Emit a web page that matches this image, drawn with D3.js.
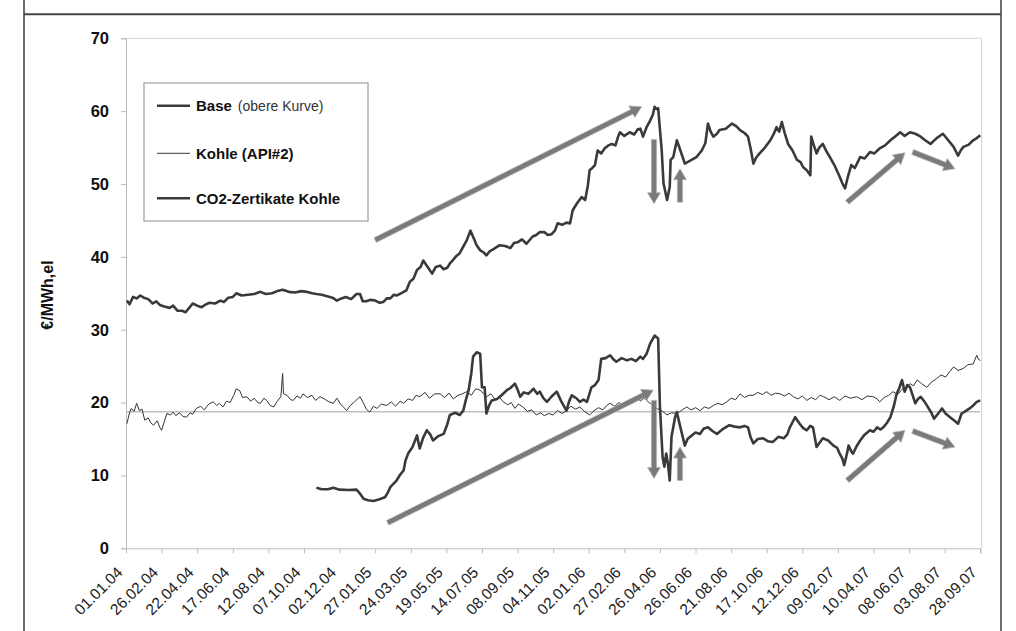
<!DOCTYPE html>
<html><head><meta charset="utf-8">
<script src="https://cdn.jsdelivr.net/npm/d3@7"></script>
<style>body{margin:0;background:#fff}svg{display:block}text{font-family:"Liberation Sans",Arial,sans-serif}</style>
</head><body>
<svg id="c" width="1016" height="631"></svg>
<script>
// tick labels (every 40 trading days)
const dateLabels = ["01.01.04","26.02.04","22.04.04","17.06.04","12.08.04","07.10.04","02.12.04","27.01.05","24.03.05","19.05.05","14.07.05","08.09.05","04.11.05","02.01.06","27.02.06","26.04.06","26.06.06","21.08.06","17.10.06","12.12.06","09.02.07","10.04.07","08.06.07","03.08.07","28.09.07"];
const yTicks = [0,10,20,30,40,50,60,70];
const seriesNames = ["Base","Kohle (API#2)","CO2-Zertikate Kohle"];
const refLevel = 18.75;

// [trading day, €/MWh]
const baseSeries = [[1,34.0],[4,33.5],[8,34.5],[12,34.3],[16,34.7],[20,34.4],[25,34.2],[30,33.6],[34,33.9],[38,33.4],[43,33.2],[49,33.0],[53,33.3],[58,32.6],[63,32.6],[67,32.4],[71,33.0],[75,33.6],[80,33.3],[85,33.1],[90,33.5],[94,33.7],[100,33.6],[106,34.0],[110,33.8],[115,34.4],[120,34.5],[124,35.0],[130,34.7],[137,34.8],[144,34.9],[151,35.2],[157,34.9],[164,35.0],[170,35.3],[176,35.5],[183,35.2],[190,35.1],[197,35.3],[203,35.2],[209,35.0],[214,34.9],[220,34.8],[226,34.6],[232,34.4],[237,34.0],[242,34.3],[247,34.5],[253,34.2],[259,34.9],[263,34.9],[266,33.9],[270,33.9],[275,34.1],[280,34.0],[285,33.7],[289,33.8],[293,34.3],[297,34.3],[301,34.8],[304,34.7],[309,35.0],[315,35.4],[319,36.6],[323,37.0],[327,38.2],[331,38.6],[334,39.5],[339,38.6],[344,37.7],[348,38.6],[353,38.8],[357,38.3],[361,38.5],[364,39.1],[367,39.5],[371,40.1],[375,40.5],[379,41.4],[383,42.3],[387,43.6],[391,42.5],[394,41.6],[398,40.9],[402,40.6],[405,40.2],[409,40.8],[412,41.0],[416,41.3],[420,41.6],[426,41.5],[432,41.2],[436,41.9],[440,42.0],[445,42.4],[450,41.8],[457,42.8],[461,43.0],[465,43.4],[470,43.4],[474,43.0],[478,43.1],[482,43.6],[485,44.6],[490,44.4],[495,44.7],[499,44.6],[502,46.4],[507,47.4],[512,48.2],[516,47.8],[519,49.8],[521,51.9],[524,52.2],[527,52.6],[530,54.6],[534,54.2],[538,54.9],[542,55.3],[546,55.5],[550,55.3],[553,56.5],[555,57.1],[560,56.6],[566,57.1],[571,56.8],[575,57.5],[578,57.6],[581,56.5],[585,57.8],[589,58.7],[592,59.5],[594,60.6],[596,60.3],[598,60.4],[602,54.6],[604,50.1],[608,47.8],[611,49.6],[612,53.3],[615,53.7],[619,56.0],[623,54.6],[628,52.8],[634,53.2],[641,53.7],[647,54.6],[651,55.6],[654,58.3],[657,57.2],[660,56.5],[664,56.9],[667,57.4],[674,57.6],[681,58.3],[686,57.9],[690,57.4],[695,57.0],[699,56.5],[702,54.8],[705,52.8],[708,53.6],[712,54.2],[718,55.0],[724,56.0],[728,56.9],[731,57.8],[734,57.2],[737,58.5],[740,57.1],[744,55.5],[749,54.6],[754,53.3],[758,53.0],[761,52.3],[765,51.9],[769,51.2],[770,56.5],[773,55.3],[776,54.2],[779,55.0],[783,55.5],[787,54.5],[791,53.7],[796,52.6],[802,51.0],[805,50.1],[808,49.4],[811,50.9],[815,52.6],[819,52.2],[825,53.7],[830,53.5],[836,54.4],[841,54.2],[847,54.9],[853,55.3],[859,56.0],[864,56.5],[870,57.1],[875,56.6],[881,57.1],[887,56.9],[893,56.5],[898,56.0],[904,55.5],[911,56.3],[918,56.9],[924,56.0],[930,55.1],[935,53.9],[938,54.6],[941,55.1],[947,55.4],[952,56.0],[956,56.3],[960,56.7]];

const kohleSeries = [[1,17.1],[4,18.6],[6,19.2],[9,18.8],[12,19.9],[15,18.9],[18,19.1],[21,17.6],[25,17.9],[28,17.2],[31,16.9],[35,17.5],[38,16.6],[40,16.2],[43,17.4],[46,18.5],[50,18.3],[53,18.7],[56,18.2],[60,18.6],[64,18.1],[68,18.0],[72,18.6],[75,18.4],[79,19.2],[84,19.5],[88,19.0],[93,19.8],[98,20.1],[102,19.6],[105,19.9],[109,19.4],[113,20.2],[117,20.0],[121,21.0],[124,21.9],[128,21.6],[131,20.7],[136,20.8],[140,20.2],[144,20.6],[148,20.0],[151,19.9],[155,20.6],[158,20.3],[162,19.6],[166,19.4],[170,20.2],[174,20.8],[176,24.0],[177,21.2],[181,21.0],[185,20.4],[188,20.3],[192,20.9],[196,20.6],[199,21.2],[204,20.7],[209,21.0],[213,20.3],[218,20.8],[223,20.5],[228,20.1],[233,19.9],[237,20.6],[241,19.8],[245,19.3],[248,18.9],[252,19.6],[256,20.0],[260,20.5],[263,20.8],[267,19.9],[270,19.1],[274,18.7],[278,19.5],[282,19.2],[287,19.8],[293,19.6],[298,20.1],[303,19.5],[308,20.2],[312,19.9],[317,20.5],[322,20.3],[326,21.0],[330,20.8],[336,21.4],[341,20.6],[347,21.2],[353,21.2],[358,20.7],[363,21.3],[368,20.5],[373,21.0],[378,21.2],[383,21.5],[388,21.0],[393,21.9],[398,21.7],[401,21.3],[405,20.8],[410,21.2],[415,20.4],[420,20.7],[424,20.1],[429,19.7],[433,20.0],[437,19.2],[441,19.8],[446,19.4],[451,18.8],[456,19.0],[461,18.3],[466,18.6],[470,18.2],[475,18.5],[480,18.3],[485,18.9],[490,18.5],[495,18.9],[500,19.5],[505,19.1],[510,19.4],[515,18.8],[521,18.3],[526,18.9],[531,19.3],[536,19.0],[540,19.6],[544,19.9],[549,19.5],[554,20.0],[558,19.7],[563,19.9],[568,20.4],[574,20.8],[578,20.2],[582,20.6],[585,20.3],[589,19.9],[594,19.4],[598,19.1],[603,18.8],[608,18.3],[613,18.6],[619,18.5],[624,18.9],[630,19.4],[635,19.0],[640,19.3],[645,18.9],[650,19.4],[655,19.2],[660,19.6],[665,19.9],[670,19.7],[675,20.1],[680,20.6],[685,20.4],[690,21.2],[695,20.7],[700,21.0],[705,21.0],[710,21.4],[715,21.1],[720,21.5],[725,21.0],[730,21.3],[735,21.2],[740,20.9],[745,21.3],[750,20.8],[755,20.5],[760,20.9],[765,20.3],[770,20.7],[775,20.4],[780,21.0],[784,20.8],[790,20.4],[796,20.8],[802,20.3],[808,20.9],[814,20.6],[821,20.8],[827,20.4],[833,20.9],[840,20.8],[844,20.5],[847,20.1],[852,20.7],[857,21.0],[862,21.5],[867,21.1],[872,21.8],[877,22.1],[881,22.6],[885,22.3],[889,23.1],[894,22.6],[900,22.1],[905,22.8],[911,23.3],[916,23.8],[921,23.5],[926,24.3],[930,24.9],[935,24.4],[941,24.7],[946,25.2],[952,25.3],[956,26.5],[958,25.9],[960,25.8]];

const co2Series = [[214,8.3],[220,8.1],[227,8.1],[233,8.3],[240,8.05],[250,8.0],[259,8.05],[263,7.5],[267,6.8],[272,6.6],[278,6.5],[284,6.7],[291,7.0],[294,7.6],[297,8.4],[301,8.9],[304,9.3],[308,10.1],[312,10.7],[314,12.0],[317,13.0],[322,13.9],[327,15.5],[330,13.7],[334,15.2],[338,16.2],[342,15.6],[345,14.8],[351,15.4],[357,15.7],[361,17.0],[364,18.3],[370,18.6],[375,18.3],[379,18.9],[382,20.4],[385,21.7],[388,24.0],[390,26.3],[394,26.9],[398,26.7],[400,22.1],[403,22.1],[405,18.5],[408,19.6],[411,20.3],[417,20.5],[422,21.0],[428,21.7],[432,22.0],[437,22.6],[440,21.8],[443,20.8],[447,21.4],[452,21.2],[458,21.9],[462,21.2],[465,21.5],[469,20.6],[473,20.1],[478,20.8],[484,21.5],[489,20.2],[495,18.9],[498,20.2],[501,21.0],[506,20.6],[510,20.1],[514,20.4],[518,20.1],[523,22.1],[527,22.4],[531,23.1],[534,26.0],[539,26.1],[544,26.5],[548,25.9],[551,25.6],[557,26.1],[563,25.8],[568,26.0],[573,25.7],[578,26.3],[581,26.0],[585,26.7],[589,28.1],[594,29.2],[598,28.8],[600,19.4],[603,12.5],[605,11.2],[607,13.0],[609,11.6],[611,9.3],[613,15.3],[617,18.0],[619,18.7],[623,16.6],[628,14.1],[631,15.0],[634,15.3],[640,15.9],[645,15.7],[649,16.4],[654,16.6],[659,16.1],[664,15.7],[671,16.4],[678,16.9],[684,16.7],[690,16.6],[695,16.8],[699,16.6],[702,15.2],[705,14.4],[710,15.0],[716,15.1],[721,14.7],[727,14.6],[733,15.3],[739,15.1],[743,15.6],[746,16.6],[749,17.3],[752,18.0],[757,17.1],[761,16.5],[765,16.2],[769,16.8],[772,16.6],[776,13.9],[780,14.6],[783,15.1],[789,14.8],[795,14.1],[799,13.8],[802,13.0],[805,12.3],[807,11.4],[810,12.9],[812,14.1],[815,13.3],[817,13.0],[821,14.0],[825,14.8],[830,15.6],[836,16.2],[840,16.0],[844,16.6],[848,16.3],[851,16.6],[855,17.2],[859,18.0],[863,19.6],[866,21.2],[869,22.0],[872,23.1],[875,21.5],[878,22.4],[881,22.1],[884,21.0],[887,19.9],[890,20.5],[893,20.8],[898,20.0],[902,19.2],[905,18.6],[908,17.8],[912,18.4],[917,19.2],[921,18.5],[926,18.0],[930,17.6],[935,17.1],[939,18.5],[943,18.8],[948,19.2],[952,19.6],[956,20.1],[960,20.3]];

// annotation arrows: [day1, value1, day2, value2]
const trendArrows = [[280,42.3,579.5,60.6],[294,3.5,592.5,21.7],[593.3,56.1,593.3,47.3],[622.5,47.5,622.5,52.1],[593.3,20.3,593.3,9.6],[622.5,9.3,622.5,13.9],[810.5,47.5,875.4,54.3],[884,54.4,931.6,52.1],[810.5,9.3,875.4,16.2],[884,16.1,931.6,13.9]];

const svg = d3.select("#c");
const x = d3.scaleLinear().domain([0,960]).range([126,980.3]);
const y = d3.scaleLinear().domain([0,70]).range([548.3,38.3]);

// outer frame
svg.append("line").attr("x1",24).attr("x2",24).attr("y1",0).attr("y2",631).attr("stroke","#6e6e6e").attr("stroke-width",2);
svg.append("line").attr("x1",1001).attr("x2",1001).attr("y1",0).attr("y2",631).attr("stroke","#6e6e6e").attr("stroke-width",2);
svg.append("line").attr("x1",24).attr("x2",1001).attr("y1",14.3).attr("y2",14.3).attr("stroke","#444").attr("stroke-width",2);

// plot border (top/right)
svg.append("path").attr("d",`M${x(0)},${y(70)}H981.7V${y(0)}`).attr("fill","none").attr("stroke","#d4d4d4").attr("stroke-width",1);

// axes
const yAxis = d3.axisLeft(y).tickValues(yTicks).tickSize(5).tickPadding(12).tickFormat(d3.format("d"));
const gy = svg.append("g").attr("transform",`translate(${x(0)},0)`).call(yAxis);
gy.select(".domain").attr("stroke","#bdbdbd");
gy.selectAll(".tick line").attr("stroke","#bdbdbd");
gy.selectAll("text").attr("font-size",16.5).attr("font-weight","bold").attr("fill","#111");

const xAxis = d3.axisBottom(x).tickValues(dateLabels.map((_,i)=>i*40)).tickSize(5).tickFormat((d,i)=>dateLabels[i]);
const gx = svg.append("g").attr("transform",`translate(0,${y(0)})`).call(xAxis);
gx.select(".domain").attr("stroke","#bdbdbd");
gx.selectAll(".tick line").attr("stroke","#bdbdbd");
gx.selectAll("text").attr("font-size",15.5).attr("fill","#222")
  .attr("text-anchor","end").attr("y",0).attr("dy",0)
  .attr("transform","translate(-3,25) rotate(-45)");

// y title
svg.append("text").attr("transform","translate(53,295) rotate(-90)").attr("text-anchor","middle")
  .attr("font-size",16).attr("font-weight","bold").attr("fill","#111").text("€/MWh,el");

// reference level
svg.append("line").attr("x1",x(0)).attr("x2",x(960)).attr("y1",y(refLevel)).attr("y2",y(refLevel)).attr("stroke","#bfbfbf").attr("stroke-width",1.5);

const line = d3.line().x(d=>x(d[0])).y(d=>y(d[1]));
svg.append("path").datum(kohleSeries).attr("d",line).attr("fill","none").attr("stroke","#333").attr("stroke-width",1).attr("stroke-linejoin","round");
svg.append("path").datum(co2Series).attr("d",line).attr("fill","none").attr("stroke","#3a3a3a").attr("stroke-width",2.6).attr("stroke-linejoin","round");
svg.append("path").datum(baseSeries).attr("d",line).attr("fill","none").attr("stroke","#3a3a3a").attr("stroke-width",2.6).attr("stroke-linejoin","round");

// arrows
function arrowPath(a){
  const x1=x(a[0]),y1=y(a[1]),x2=x(a[2]),y2=y(a[3]);
  const dx=x2-x1,dy=y2-y1,L=Math.hypot(dx,dy),ux=dx/L,uy=dy/L,nx=-uy,ny=ux;
  const sw=2.6,hw=6.5,hl=11;
  const bx=x2-ux*hl,by=y2-uy*hl;
  const p=[[x1+nx*sw,y1+ny*sw],[bx+nx*sw,by+ny*sw],[bx+nx*hw,by+ny*hw],[x2,y2],[bx-nx*hw,by-ny*hw],[bx-nx*sw,by-ny*sw],[x1-nx*sw,y1-ny*sw]];
  return "M"+p.map(q=>q[0].toFixed(1)+","+q[1].toFixed(1)).join("L")+"Z";
}
svg.append("g").selectAll("path").data(trendArrows).join("path").attr("d",arrowPath)
  .attr("fill","#7a7a7a").attr("stroke","#b5b5b5").attr("stroke-width",0.8);

// legend
const lg = svg.append("g");
lg.append("rect").attr("x",144).attr("y",83).attr("width",224).attr("height",138).attr("fill","#fff").attr("stroke","#8c8c8c").attr("stroke-width",1);
const legendRows = [{y:105.7,w:2.6},{y:153.3,w:1},{y:198.3,w:2.6}];
legendRows.forEach((r,i)=>{
  lg.append("line").attr("x1",157).attr("x2",190).attr("y1",r.y).attr("y2",r.y).attr("stroke","#3a3a3a").attr("stroke-width",r.w);
  const t = lg.append("text").attr("x",196).attr("y",r.y+5.5).attr("font-size",15).attr("fill","#111");
  t.append("tspan").attr("font-weight","bold").text(seriesNames[i]);
  if(i===0) t.append("tspan").attr("font-size",14).attr("dx",6).attr("fill","#333").text("(obere Kurve)");
});
</script>
</body></html>
